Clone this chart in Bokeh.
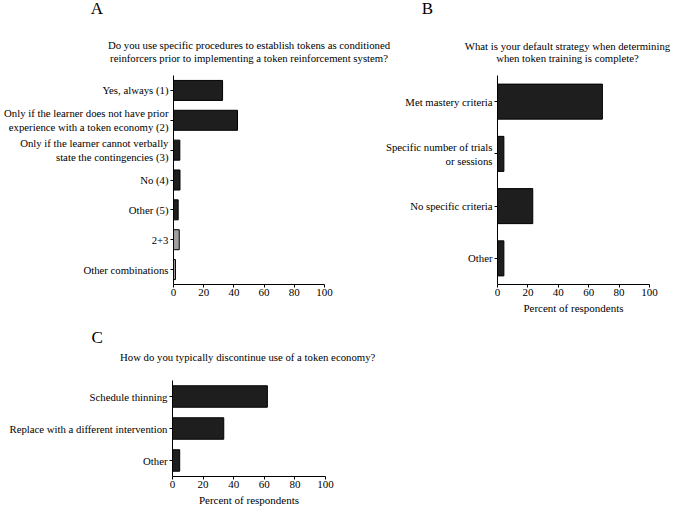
from bokeh.plotting import figure
from bokeh.models import FactorRange, Range1d, FixedTicker, Label
from bokeh.layouts import column, row
from bokeh.embed import file_html
from bokeh.resources import INLINE

FONT = "Liberation Serif"
DARK = "#1e1e1e"
GRAY = "#a0a0a0"

# ---- Panel A data ----
a_categories = [
    "Yes, always (1)",
    "Only if the learner does not have prior\nexperience with a token economy (2)",
    "Only if the learner cannot verbally\nstate the contingencies (3)",
    "No (4)",
    "Other (5)",
    "2+3",
    "Other combinations",
]
a_values = [32.5, 42.4, 4.2, 4.3, 3.1, 3.8, 1.3]
a_colors = [DARK, DARK, DARK, DARK, DARK, GRAY, GRAY]
a_question = ["Do you use specific procedures to establish tokens as conditioned",
              "reinforcers prior to implementing a token reinforcement system?"]

# ---- Panel B data ----
b_categories = [
    "Met mastery criteria",
    "Specific number of trials\nor sessions",
    "No specific criteria",
    "Other",
]
b_values = [69.0, 4.2, 23.2, 4.2]
b_colors = [DARK, DARK, DARK, DARK]
b_question = ["What is your default strategy when determining",
              "when token training is complete?"]

# ---- Panel C data ----
c_categories = [
    "Schedule thinning",
    "Replace with a different intervention",
    "Other",
]
c_values = [62.0, 33.5, 4.7]
c_colors = [DARK, DARK, DARK]
c_question = ["How do you typically discontinue use of  a token economy?"]

x_ticks = [0, 20, 40, 60, 80, 100]
x_label = "Percent of respondents"

TOTAL_W = 674


def header(height, items):
    """items: (text, x, y_from_top, size)"""
    h = figure(width=TOTAL_W, height=height, output_backend="svg", toolbar_location=None,
               x_range=Range1d(0, TOTAL_W), y_range=Range1d(0, height),
               x_axis_location=None, y_axis_location=None,
               min_border=0, min_border_left=0, min_border_right=0,
               min_border_top=0, min_border_bottom=0)
    h.xgrid.visible = False
    h.ygrid.visible = False
    h.outline_line_color = None
    h.background_fill_color = "white"
    h.border_fill_color = "white"
    for text, x, y, size in items:
        h.add_layout(Label(x=x, y=height - y, x_units="screen", y_units="screen",
                           text=text, text_font=FONT, text_font_size=size,
                           text_align="center", text_baseline="middle",
                           text_color="black"))
    return h


def panel(cats, vals, colors, width, height, bl, br, bt, bb, xlabel=None):
    p = figure(width=width, height=height, output_backend="svg", toolbar_location=None,
               y_range=FactorRange(factors=list(reversed(cats))),
               x_range=Range1d(0, 100),
               min_border_left=bl, min_border_right=br,
               min_border_top=bt, min_border_bottom=bb)
    p.hbar(y=cats, right=vals, left=0, height=0.67, fill_color=colors,
           line_color="black", line_width=1)
    p.outline_line_color = None
    p.xgrid.visible = False
    p.ygrid.visible = False
    p.background_fill_color = "white"
    p.border_fill_color = "white"
    for ax in (p.xaxis[0], p.yaxis[0]):
        ax.axis_line_color = "black"
        ax.axis_line_width = 1
        ax.major_tick_line_color = "black"
        ax.major_tick_out = 3
        ax.major_tick_in = 0
        ax.minor_tick_line_color = None
        ax.major_label_text_font = FONT
        ax.major_label_text_font_size = "11px"
        ax.major_label_text_color = "black"
    p.yaxis[0].major_label_text_font_size = "10.75px"
    p.yaxis[0].major_label_standoff = 2
    p.xaxis[0].major_label_standoff = 1
    p.xaxis[0].ticker = FixedTicker(ticks=x_ticks)
    if xlabel:
        p.xaxis[0].axis_label = xlabel
        p.xaxis[0].axis_label_text_font = FONT
        p.xaxis[0].axis_label_text_font_size = "11px"
        p.xaxis[0].axis_label_text_font_style = "normal"
        p.xaxis[0].axis_label_text_color = "black"
        p.xaxis[0].axis_label_standoff = 3
    return p


top = header(70, [
    ("A", 96.5, 8, "17px"),
    ("B", 427, 8, "17px"),
    (a_question[0], 248.5, 44.5, "10.75px"),
    (a_question[1], 248.5, 57, "10.75px"),
    (b_question[0], 567, 45, "10.75px"),
    (b_question[1], 567, 57.5, "10.75px"),
])

pa = panel(a_categories, a_values, a_colors,
           width=334, height=259, bl=173, br=10, bt=4, bb=45)
pb = panel(b_categories, b_values, b_colors,
           width=340, height=259, bl=163, br=25, bt=5, bb=42, xlabel=x_label)

mid = header(46, [
    ("C", 96.7, 8, "17px"),
    (c_question[0], 248.5, 27.5, "10.75px"),
])

pc = panel(c_categories, c_values, c_colors,
           width=334, height=141, bl=172, br=9, bt=5, bb=40, xlabel=x_label)

layout = column(row(top), row(pa, pb), row(mid), row(pc))
open("out.html", "w").write(file_html(layout, INLINE))
